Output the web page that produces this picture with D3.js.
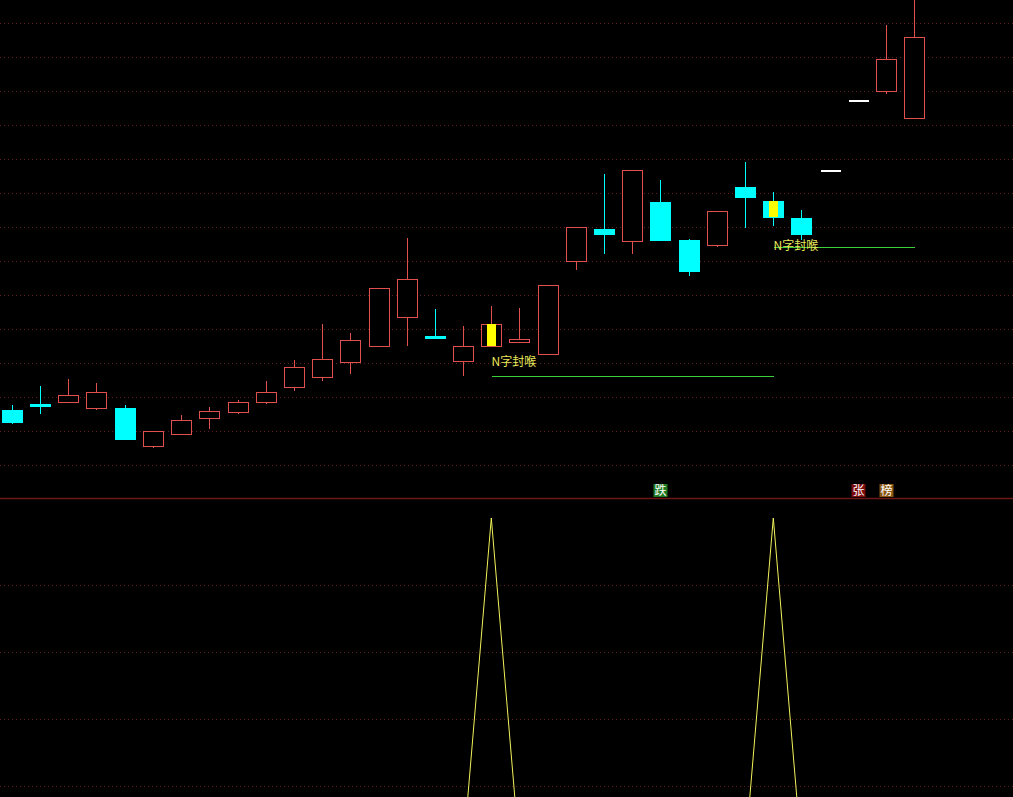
<!DOCTYPE html>
<html>
<head>
<meta charset="utf-8">
<script src="https://cdn.jsdelivr.net/npm/d3@7"></script>
<style>
  body { margin: 0; background: #000; }
  svg { display: block; }
</style>
</head>
<body>
<script>
var W = 1013, H = 797;

// daily bars (price)
var open  = [10.81, 10.89, 10.93, 10.84, 10.84, 10.28, 10.45, 10.68, 10.78, 10.93, 11.14, 11.30, 11.52, 11.75, 12.17, 11.90, 11.53,
             11.75, 11.80, 11.64, 13.00, 13.47, 13.30, 13.87, 13.31, 13.24, 14.09, 13.88, 13.63, 14.32, 15.35, 15.50, 15.10];
var high  = [10.88, 11.16, 11.26, 11.21, 10.88, 10.50, 10.74, 10.85, 10.96, 11.24, 11.54, 12.07, 11.94, 12.61, 13.34, 12.29, 12.04,
             12.34, 12.31, 12.65, 13.50, 14.28, 14.34, 14.19, 13.32, 13.74, 14.46, 14.01, 13.75, 14.32, 15.35, 16.47, 16.99];
var low   = [10.61, 10.75, 10.92, 10.81, 10.37, 10.25, 10.45, 10.53, 10.75, 10.89, 11.09, 11.23, 11.34, 11.75, 11.75, 11.87, 11.31,
             11.75, 11.80, 11.64, 12.87, 13.10, 13.10, 13.31, 12.78, 13.21, 13.49, 13.52, 13.31, 14.32, 15.35, 15.46, 15.10];
var close = [10.64, 10.86, 11.03, 11.07, 10.39, 10.50, 10.66, 10.79, 10.93, 11.07, 11.44, 11.56, 11.84, 12.61, 12.73, 11.87, 11.75,
             12.08, 11.85, 12.65, 13.50, 13.40, 14.34, 13.31, 12.86, 13.74, 13.95, 13.65, 13.39, 14.32, 15.35, 15.97, 16.29];

// "N字封喉" signals: bar index, label price, support line price, line end index
var sigIndex   = [17, 27];
var sigLabelAt = [11.46, 13.16];
var sigLine    = [11.31, 13.20];
var sigLineEnd = [27, 32];
var sigText    = "N字封喉";

// lower indicator
var indicator = [0, 0, 0, 0, 0, 0, 0, 0, 0, 0, 0, 0, 0, 0, 0, 0, 0,
                 100, 0, 0, 0, 0, 0, 0, 0, 0, 0, 100, 0, 0, 0, 0, 0];

// event marks above the divider
var markIndex = [23, 30, 31];
var markText  = ["跌", "张", "榜"];
var markFill  = ["#1f7a22", "#7c0c0c", "#8a5614"];

var priceTicks = d3.range(10, 16.51, 0.5);
var indTicks = [20, 40, 60, 80];

var x = d3.scaleLinear().domain([0, open.length - 1]).range([11.9, 914.3]);
var y = d3.scaleLinear().domain([10, 16.5]).range([465, 23]);
var yi = d3.scaleLinear().domain([0, 100]).range([853, 518]);
var bodyW = 20;
var divY = 498.5;

var svg = d3.select("body").append("svg")
  .attr("width", W)
  .attr("height", H)
  .style("background", "#000");

svg.append("defs").append("clipPath").attr("id", "topclip")
  .append("rect").attr("x", 0).attr("y", 0).attr("width", W).attr("height", divY);

// grids
svg.append("g")
  .attr("class", "grid")
  .call(d3.axisLeft(y).tickValues(priceTicks).tickSize(-W).tickFormat(""))
  .call(function (g) { g.select(".domain").remove(); });
svg.append("g")
  .attr("class", "grid")
  .call(d3.axisLeft(yi).tickValues(indTicks).tickSize(-W).tickFormat(""))
  .call(function (g) { g.select(".domain").remove(); });
svg.selectAll(".grid line")
  .attr("stroke", "#5e1f1f")
  .attr("stroke-dasharray", "1,3");

// divider
svg.append("line")
  .attr("x1", 0).attr("x2", W)
  .attr("y1", divY).attr("y2", divY)
  .attr("stroke", "#6e1616")
  .attr("stroke-width", 1.5);

var gTop = svg.append("g").attr("clip-path", "url(#topclip)").style("shape-rendering", "crispEdges");

var bars = d3.range(open.length);
function col(i) {
  if (close[i] > open[i]) return "#e0504c";
  if (close[i] < open[i]) return "#00ffff";
  return "#ffffff";
}
function cx(i) { return Math.round(x(i)) + 0.5; }

// wicks
gTop.selectAll(".wickHi").data(bars).enter().append("line")
  .attr("x1", cx).attr("x2", cx)
  .attr("y1", function (i) { return y(high[i]); })
  .attr("y2", function (i) { return y(Math.max(open[i], close[i])); })
  .attr("stroke", col);
gTop.selectAll(".wickLo").data(bars).enter().append("line")
  .attr("x1", cx).attr("x2", cx)
  .attr("y1", function (i) { return y(Math.min(open[i], close[i])); })
  .attr("y2", function (i) { return y(low[i]); })
  .attr("stroke", col);

// bodies
gTop.selectAll(".body").data(bars.filter(function (i) { return open[i] !== close[i]; })).enter().append("rect")
  .attr("x", function (i) { return cx(i) - bodyW / 2; })
  .attr("y", function (i) { return Math.round(y(Math.max(open[i], close[i]))) + 0.5; })
  .attr("width", bodyW)
  .attr("height", function (i) { return Math.max(1, Math.round(Math.abs(y(open[i]) - y(close[i])))); })
  .attr("fill", function (i) { return close[i] > open[i] ? "#000" : col(i); })
  .attr("stroke", col);

// one-price bars
gTop.selectAll(".flat").data(bars.filter(function (i) { return open[i] === close[i]; })).enter().append("line")
  .attr("x1", function (i) { return cx(i) - bodyW / 2; })
  .attr("x2", function (i) { return cx(i) + bodyW / 2; })
  .attr("y1", function (i) { return Math.round(y(close[i])); })
  .attr("y2", function (i) { return Math.round(y(close[i])); })
  .attr("stroke", "#ffffff")
  .attr("stroke-width", 2);

// signal sticks
gTop.selectAll(".stick").data(sigIndex).enter().append("rect")
  .attr("x", function (i) { return cx(i) - 4.5; })
  .attr("y", function (i) { return y(Math.max(open[i], close[i])); })
  .attr("width", 9)
  .attr("height", function (i) { return Math.abs(y(open[i]) - y(close[i])); })
  .attr("fill", "#ffff00");

// support lines
gTop.selectAll(".sup").data(sigIndex).enter().append("line")
  .attr("x1", function (d) { return cx(d); })
  .attr("x2", function (d, k) { return cx(sigLineEnd[k]); })
  .attr("y1", function (d, k) { return Math.round(y(sigLine[k])) + 0.5; })
  .attr("y2", function (d, k) { return Math.round(y(sigLine[k])) + 0.5; })
  .attr("stroke", "#3ccf3c");

gTop.selectAll(".sigText").data(sigIndex).enter().append("text")
  .attr("x", function (d) { return cx(d); })
  .attr("y", function (d, k) { return y(sigLabelAt[k]); })
  .attr("fill", "#e8e85a")
  .style("font-family", "'Noto Sans CJK SC', sans-serif")
  .style("font-size", "12px")
  .text(sigText);

// event marks
var marks = svg.selectAll(".mark").data(markIndex).enter().append("g")
  .attr("transform", function (d) { return "translate(" + (cx(d) - 7) + ",484)"; });
marks.append("rect")
  .attr("width", 14).attr("height", 13)
  .attr("fill", function (d, k) { return markFill[k]; });
marks.append("text")
  .attr("x", 7).attr("y", 11)
  .attr("text-anchor", "middle")
  .attr("fill", "#ffffff")
  .style("font-family", "'Noto Sans CJK SC', sans-serif")
  .style("font-size", "12px")
  .text(function (d, k) { return markText[k]; });

// lower indicator line
var line = d3.line()
  .x(function (d, i) { return x(i); })
  .y(function (d) { return yi(d); });
svg.append("path")
  .datum(indicator)
  .attr("d", line)
  .attr("fill", "none")
  .attr("stroke", "#f2f25a")
  .attr("stroke-width", 1);
</script>
</body>
</html>
